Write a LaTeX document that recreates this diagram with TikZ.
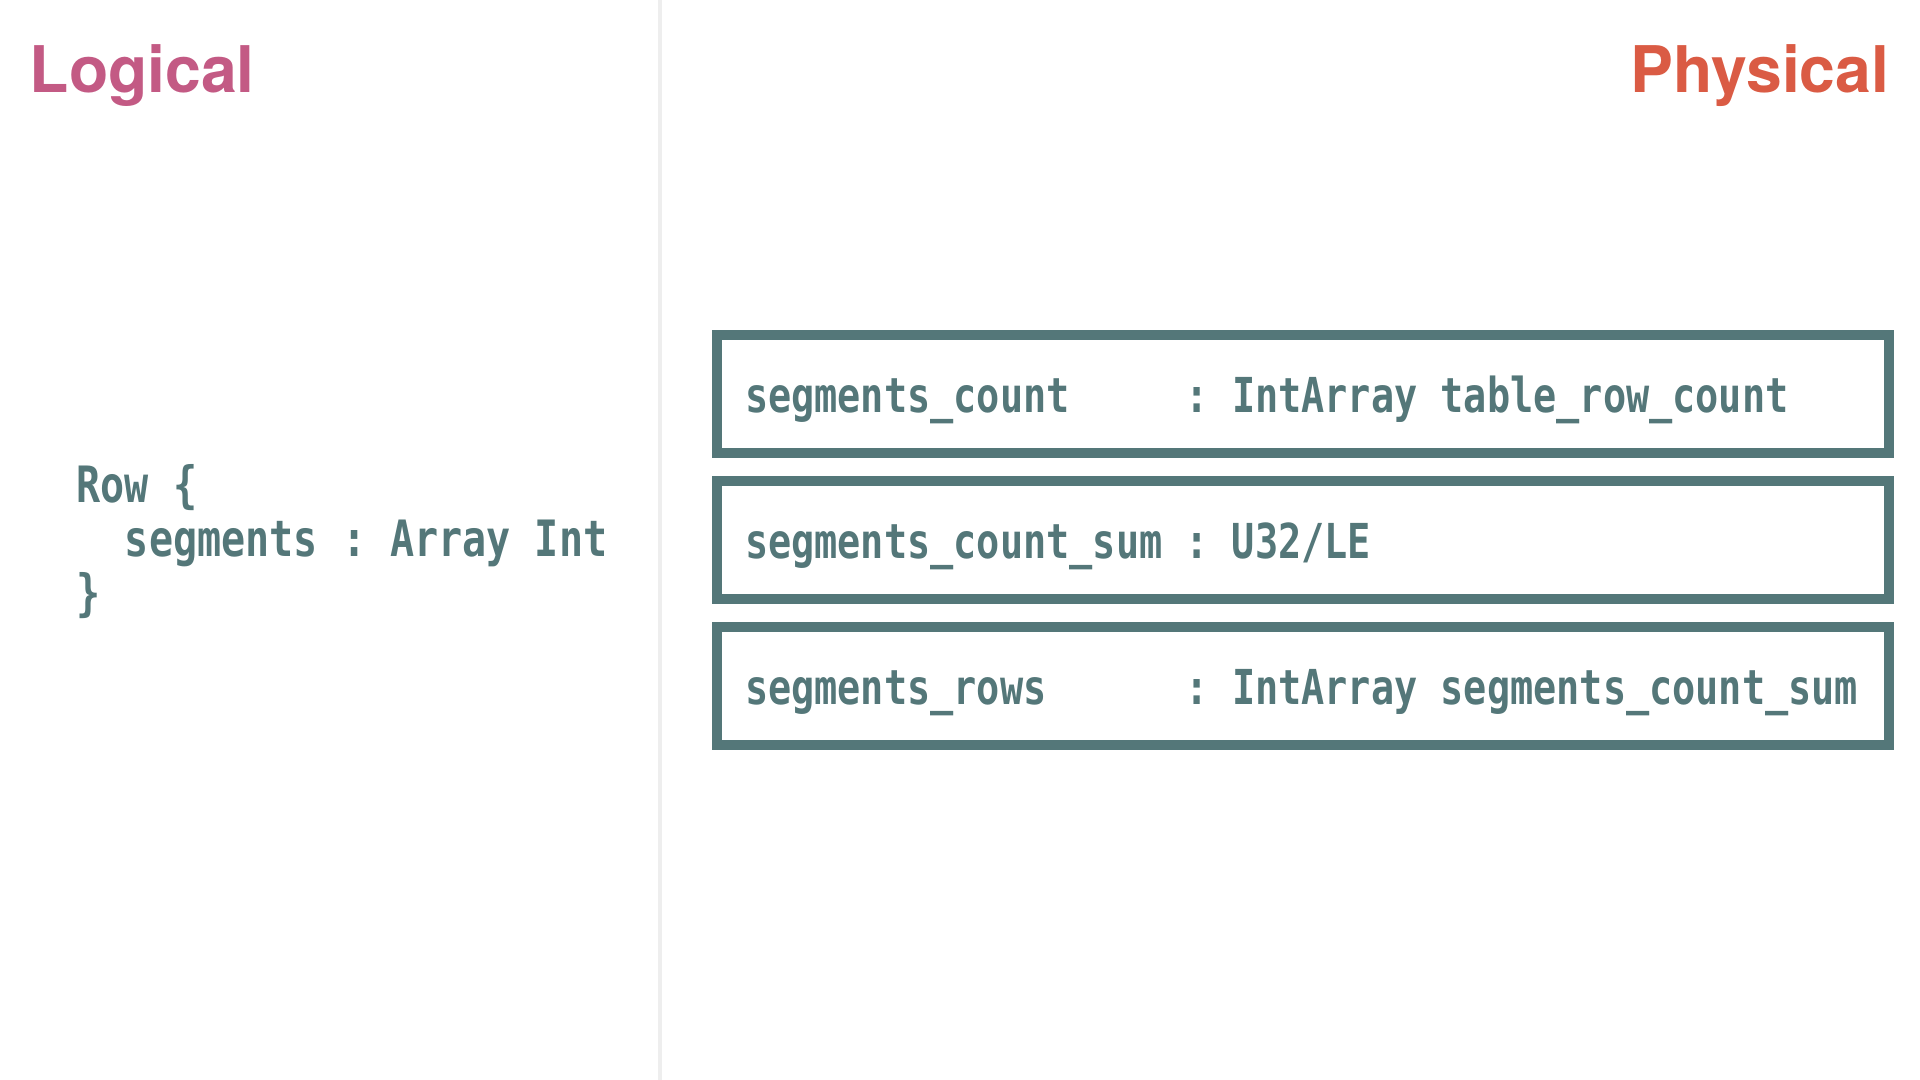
\documentclass[tikz,border=0pt]{standalone}
\usepackage{fontspec}
\usepackage{tikz}
\usetikzlibrary{positioning}
\newfontfamily\titlefont{TeX Gyre Heros}
\newfontfamily\codefont[FakeStretch=0.8]{DejaVu Sans Mono}
\newcommand\gap[1][1]{\foreach \k in {1,...,#1}{\hphantom{0}}}
\definecolor{logicpink}{HTML}{C35A84}
\definecolor{physred}{HTML}{DA5B44}
\definecolor{codeteal}{HTML}{547779}
\definecolor{divgrey}{HTML}{EEEEEE}
\tikzstyle{title} = [inner sep=0, font={\titlefont\bfseries\fontsize{18.3pt}{22pt}\selectfont}]
\tikzstyle{code} = [inner sep=0, text=codeteal, font={\codefont\bfseries\fontsize{13.7pt}{15.4pt}\selectfont}]
\tikzstyle{schema} = [code, align=left, font={\codefont\bfseries\fontsize{14.25pt}{15.4pt}\selectfont}]
\tikzstyle{field} = [code, rectangle, draw=codeteal, line width=0.1cm, minimum width=11.72cm, minimum height=1.18cm, text width=11.16cm, inner xsep=0.28cm, text height=0.42cm, text depth=0.04cm, align=left]

\begin{document}
\begin{tikzpicture}[auto, node distance = 0.18cm]
\useasboundingbox (0,0) rectangle (19.2,10.8);

\draw[divgrey, line width=0.04cm] (6.595,0) -- (6.595,10.8);

\node(L)[title, text=logicpink, anchor=base west] at (0.29,9.87) {Logical};
\node(P)[title, text=physred, anchor=base east] at (18.90,9.87) {Physical};

\node(R)[schema, anchor=base west] at (0.76,4.69) {Row\gap\{\\\gap[2]segments\gap:\gap Array\gap Int\\\}};

\node(F1)[field] at (13.03,6.86) {segments\_count\gap[5]:\gap IntArray\gap table\_row\_count};
\node(F2)[field, below = of F1] {segments\_count\_sum\gap:\gap U32/LE};
\node(F3)[field, below = of F2] {segments\_rows\gap[6]:\gap IntArray\gap segments\_count\_sum};

\end{tikzpicture}
\end{document}
